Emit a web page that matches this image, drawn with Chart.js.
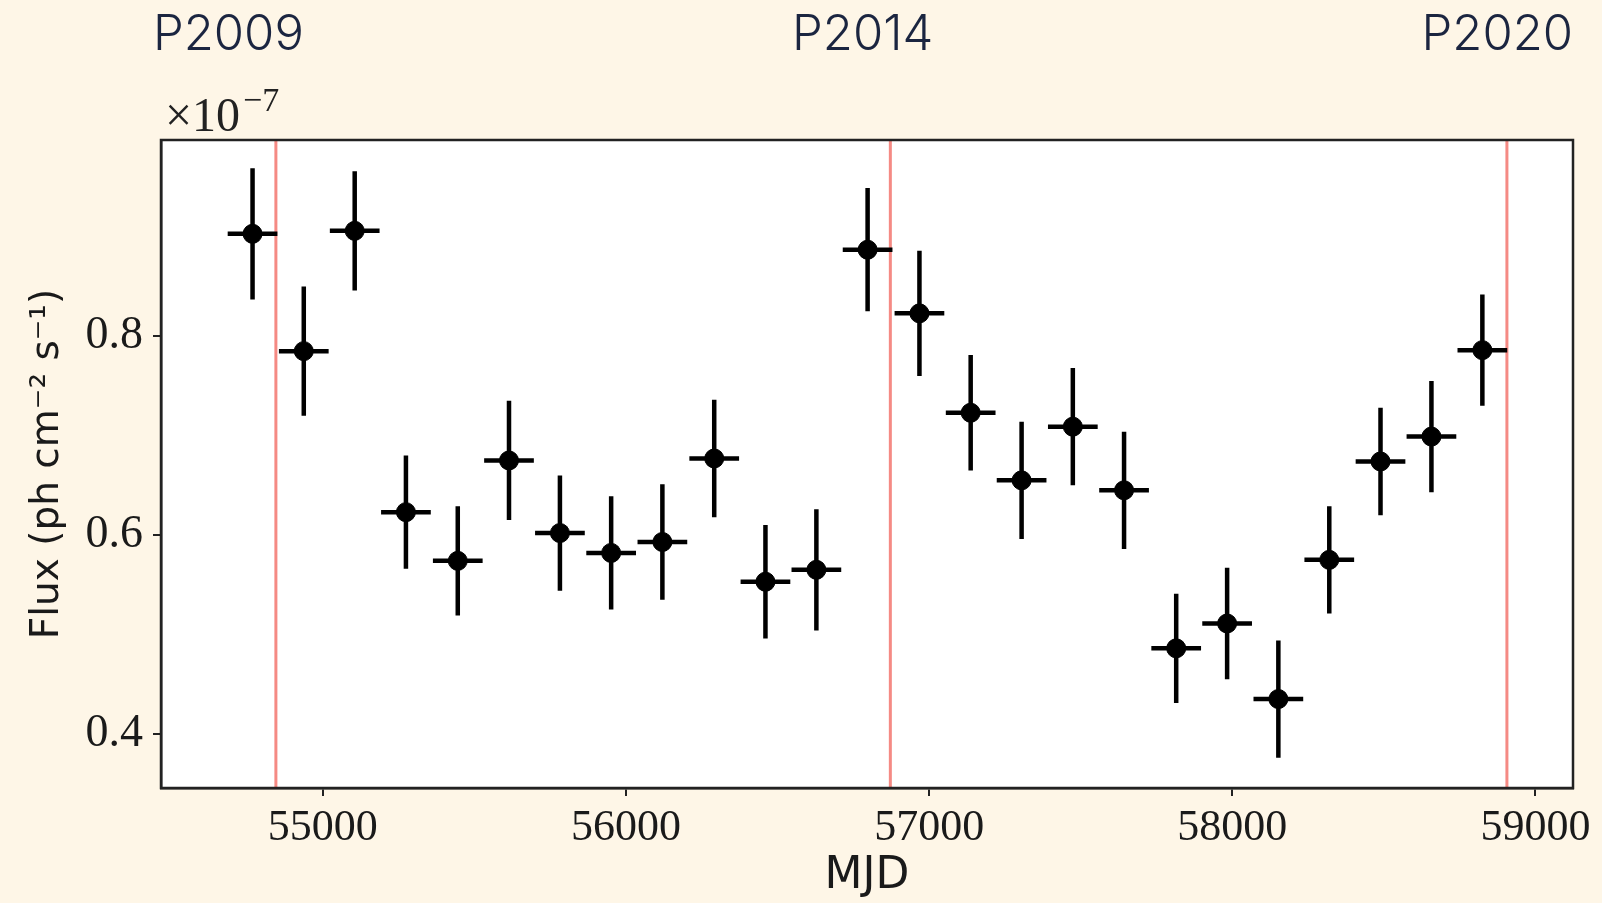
<!DOCTYPE html>
<html>
<head>
<meta charset="utf-8">
<title>Flux light curve</title>
<script src="https://cdn.jsdelivr.net/npm/chart.js@4.4.0/dist/chart.umd.min.js"></script>
<style>
  html, body { margin: 0; padding: 0; background: #fef6e7; }
  #wrap { position: relative; width: 1602px; height: 903px; overflow: hidden; }
  #lc { position: absolute; left: 0; top: 0; }
  #periods {
    position: absolute; left: 153px; right: 29px; top: 3px;
    display: flex; justify-content: space-between;
    font-family: Inter, "Noto Sans", sans-serif; font-weight: 300; font-size: 49px; color: #1b2540;
  }
</style>
</head>
<body>
<div id="wrap">
  <canvas id="lc" width="1602" height="903"></canvas>
  <div id="periods"></div>
</div>
<script>
// light curve, flux in units of 1e-7 ph cm^-2 s^-1
const mjd = [54768, 54937, 55105, 55274, 55445, 55614, 55782, 55951, 56120, 56291, 56460, 56628, 56797,
             56968, 57137, 57305, 57474, 57643, 57815, 57983, 58152, 58320, 58489, 58657, 58825];
const flux = [0.903, 0.785, 0.906, 0.623, 0.574, 0.675, 0.602, 0.582, 0.593, 0.677, 0.553, 0.565, 0.887,
              0.823, 0.723, 0.655, 0.709, 0.645, 0.486, 0.511, 0.435, 0.575, 0.674, 0.699, 0.786];
const fluxErr = [0.066, 0.065, 0.060, 0.057, 0.055, 0.060, 0.058, 0.057, 0.058, 0.059, 0.057, 0.061, 0.062,
                 0.063, 0.058, 0.059, 0.059, 0.059, 0.055, 0.056, 0.059, 0.054, 0.054, 0.056, 0.056];
const binHalfWidth = 82; // days

// periastron passages
const periastronMjd = [54845, 56872, 58906];
const periastronLabels = ['P2009', 'P2014', 'P2020'];

const xTicks = [55000, 56000, 57000, 58000, 59000];
const yTicks = [0.4, 0.6, 0.8];

const periodsBox = document.getElementById('periods');
periastronLabels.forEach(lbl => {
  const d = document.createElement('div');
  d.textContent = lbl;
  periodsBox.appendChild(d);
});

const serif = '"Liberation Serif", "DejaVu Serif", serif';
const sans = '"DejaVu Sans", sans-serif';

// white plot area, periastron lines + error bars under the points, frame on top
const errorBars = {
  id: 'errorBars',
  beforeDraw(chart) {
    const { ctx, chartArea } = chart;
    ctx.save();
    ctx.fillStyle = '#fff';
    ctx.fillRect(chartArea.left, chartArea.top, chartArea.right - chartArea.left, chartArea.bottom - chartArea.top);
    ctx.restore();
  },
  beforeDatasetsDraw(chart) {
    const { ctx, chartArea, scales } = chart;
    const x = scales.x, y = scales.y;
    ctx.save();
    ctx.beginPath();
    ctx.rect(chartArea.left, chartArea.top, chartArea.right - chartArea.left, chartArea.bottom - chartArea.top);
    ctx.clip();

    ctx.strokeStyle = '#f58a84';
    ctx.lineWidth = 3;
    periastronMjd.forEach(p => {
      const px = x.getPixelForValue(p);
      ctx.beginPath();
      ctx.moveTo(px, chartArea.top);
      ctx.lineTo(px, chartArea.bottom);
      ctx.stroke();
    });

    ctx.strokeStyle = '#000';
    ctx.lineWidth = 4.5;
    mjd.forEach((t, i) => {
      const cx = x.getPixelForValue(t);
      const cy = y.getPixelForValue(flux[i]);
      ctx.beginPath();
      ctx.moveTo(x.getPixelForValue(t - binHalfWidth), cy);
      ctx.lineTo(x.getPixelForValue(t + binHalfWidth), cy);
      ctx.moveTo(cx, y.getPixelForValue(flux[i] + fluxErr[i]));
      ctx.lineTo(cx, y.getPixelForValue(flux[i] - fluxErr[i]));
      ctx.stroke();
    });
    ctx.restore();
  },
  afterDraw(chart) {
    const { ctx, chartArea } = chart;
    ctx.save();
    // frame
    ctx.strokeStyle = '#222';
    ctx.lineWidth = 2.5;
    ctx.strokeRect(chartArea.left, chartArea.top, chartArea.right - chartArea.left, chartArea.bottom - chartArea.top);
    // offset text
    ctx.fillStyle = '#222';
    ctx.textBaseline = 'alphabetic';
    ctx.font = '48px ' + serif;
    ctx.fillText('×10', chartArea.left + 4, chartArea.top - 9);
    const w = ctx.measureText('×10').width;
    ctx.font = '34px ' + serif;
    ctx.fillText('−7', chartArea.left + 7 + w, chartArea.top - 29);
    ctx.restore();
  }
};

new Chart(document.getElementById('lc'), {
  type: 'scatter',
  data: {
    datasets: [{
      label: 'Flux',
      data: mjd.map((t, i) => ({ x: t, y: flux[i] })),
      backgroundColor: '#000',
      borderColor: '#000',
      pointRadius: 9.5,
      pointHoverRadius: 9.5
    }]
  },
  options: {
    responsive: false,
    animation: false,
    layout: { padding: { left: 0, right: 29, top: 140, bottom: 0 } },
    plugins: { legend: { display: false }, tooltip: { enabled: false } },
    scales: {
      x: {
        type: 'linear',
        min: 54466,
        max: 59124,
        afterFit(scale) { scale.height = 115; },
        afterBuildTicks(scale) { scale.ticks = xTicks.map(v => ({ value: v })); },
        grid: { display: true, drawOnChartArea: false, drawTicks: true, tickLength: 8, color: '#222', lineWidth: 2 },
        border: { display: true, color: '#222', width: 2.5 },
        ticks: {
          color: '#1a1a1a', padding: 6, maxRotation: 0,
          font: { family: serif, size: 44 },
          callback: v => String(v)
        },
        title: {
          display: true, text: 'MJD', color: '#1a1a1a',
          font: { family: sans, size: 44 }, padding: { top: 0, bottom: 0 }
        }
      },
      y: {
        type: 'linear',
        min: 0.3455,
        max: 0.9974,
        afterFit(scale) { scale.width = 161; },
        afterBuildTicks(scale) { scale.ticks = yTicks.map(v => ({ value: v })); },
        grid: { display: true, drawOnChartArea: false, drawTicks: true, tickLength: 8, color: '#222', lineWidth: 2 },
        border: { display: true, color: '#222', width: 2.5 },
        ticks: {
          color: '#1a1a1a', padding: 10,
          font: { family: serif, size: 46 },
          callback: v => v.toFixed(1)
        },
        title: {
          display: true, text: 'Flux (ph cm⁻² s⁻¹)', color: '#1a1a1a',
          font: { family: sans, size: 39 }, padding: { top: 24, bottom: 0 }
        }
      }
    }
  },
  plugins: [errorBars]
});
</script>
</body>
</html>
